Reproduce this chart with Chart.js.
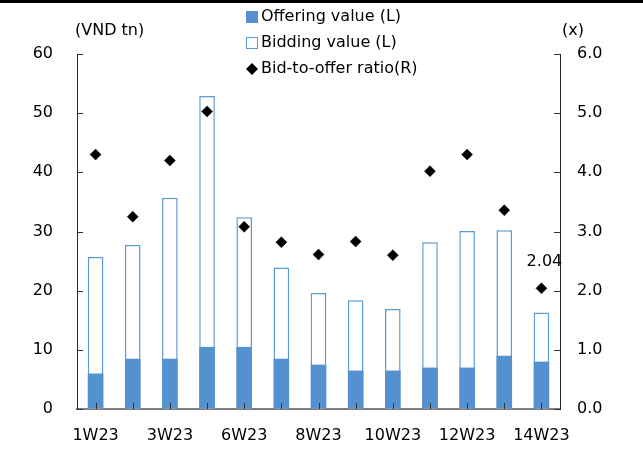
<!DOCTYPE html>
<html>
<head>
<meta charset="utf-8">
<script src="https://cdn.jsdelivr.net/npm/chart.js@4/dist/chart.umd.min.js"></script>
<style>
  html, body { margin: 0; padding: 0; background: #fff; }
  #wrap { width: 643px; height: 472px; position: relative; }
</style>
</head>
<body>
<div id="wrap"><canvas id="c" width="643" height="472"></canvas></div>
<script>
// Weekly government bond auction results, 2023
const weeks = ['1W23', '2W23', '3W23', '5W23', '6W23', '7W23', '8W23', '9W23', '10W23', '11W23', '12W23', '13W23', '14W23'];
const offeringValue = [6.0, 8.5, 8.5, 10.5, 10.5, 8.5, 7.5, 6.5, 6.5, 7.0, 7.0, 9.0, 8.0];
const biddingValue = [25.7, 27.7, 35.7, 52.9, 32.4, 23.9, 19.6, 18.4, 16.9, 28.2, 30.1, 30.2, 16.3];
const bidToOffer = [4.30, 3.25, 4.20, 5.03, 3.08, 2.82, 2.61, 2.83, 2.60, 4.02, 4.30, 3.36, 2.04];
const leftTicks = [0, 10, 20, 30, 40, 50, 60];
const rightTicks = [0, 1, 2, 3, 4, 5, 6];

const FONT = '"DejaVu Sans", Verdana, sans-serif';
const BLUE = '#5591cf';
const BLUE_EDGE = '#5b9bd5';

// Legend, unit captions, inward tick marks and the value call-out
const decorations = {
  id: 'decorations',
  afterDraw(chart) {
    const ctx = chart.ctx;
    const area = chart.chartArea;
    const x = chart.scales.x, y = chart.scales.y, y1 = chart.scales.y1;
    ctx.save();

    // top rule
    ctx.fillStyle = '#000';
    ctx.fillRect(0, 0, chart.width, 3);

    // inward tick marks
    ctx.strokeStyle = '#333';
    ctx.lineWidth = 1;
    ctx.beginPath();
    leftTicks.forEach(v => {
      const py = Math.round(y.getPixelForValue(v)) + 0.5;
      ctx.moveTo(area.left, py); ctx.lineTo(area.left + 6, py);
    });
    rightTicks.forEach(v => {
      const py = Math.round(y1.getPixelForValue(v)) + 0.5;
      ctx.moveTo(area.right, py); ctx.lineTo(area.right - 6, py);
    });
    weeks.forEach((w, i) => {
      const px = Math.round(x.getPixelForValue(i)) + 0.5;
      ctx.moveTo(px, area.bottom); ctx.lineTo(px, area.bottom - 6);
    });
    ctx.stroke();

    // unit captions
    ctx.fillStyle = '#000';
    ctx.font = '16px ' + FONT;
    ctx.textBaseline = 'middle';
    ctx.textAlign = 'left';
    ctx.fillText('(VND tn)', 75, 31);
    ctx.fillText('(x)', 562, 31);

    // legend
    const lx = 246, rows = [17, 43, 69];
    const ds = chart.data.datasets;
    // offering
    ctx.fillStyle = BLUE;
    ctx.fillRect(lx, rows[0] - 6, 12, 12);
    // bidding
    ctx.fillStyle = '#fff';
    ctx.fillRect(lx, rows[1] - 6, 12, 12);
    ctx.strokeStyle = BLUE_EDGE;
    ctx.lineWidth = 1;
    ctx.strokeRect(lx + 0.5, rows[1] - 5.5, 11, 11);
    // ratio
    ctx.fillStyle = '#000';
    ctx.beginPath();
    ctx.moveTo(lx + 6, rows[2] - 6);
    ctx.lineTo(lx + 12, rows[2]);
    ctx.lineTo(lx + 6, rows[2] + 6);
    ctx.lineTo(lx, rows[2]);
    ctx.closePath();
    ctx.fill();
    ctx.fillStyle = '#000';
    ctx.fillText(ds[0].label, 261, rows[0]);
    ctx.fillText(ds[1].label, 261, rows[1]);
    ctx.fillText(ds[2].label, 261, rows[2]);

    // call-out for the latest ratio
    const last = bidToOffer.length - 1;
    const pt = chart.getDatasetMeta(2).data[last];
    ctx.textAlign = 'center';
    ctx.fillText(bidToOffer[last].toFixed(2), pt.x + 3, pt.y - 26);

    ctx.restore();
  }
};

new Chart(document.getElementById('c'), {
  data: {
    labels: weeks,
    datasets: [
      {
        type: 'bar',
        label: 'Offering value (L)',
        data: offeringValue,
        backgroundColor: BLUE,
        borderWidth: 0,
        grouped: false,
        yAxisID: 'y',
        order: 1
      },
      {
        type: 'bar',
        label: 'Bidding value (L)',
        data: biddingValue,
        backgroundColor: '#ffffff',
        borderColor: BLUE_EDGE,
        borderWidth: 1.5,
        grouped: false,
        yAxisID: 'y',
        order: 2
      },
      {
        type: 'line',
        label: 'Bid-to-offer ratio(R)',
        data: bidToOffer,
        showLine: false,
        pointStyle: 'rectRot',
        pointRadius: 5.5,
        pointBackgroundColor: '#000',
        pointBorderColor: '#000',
        pointBorderWidth: 0.5,
        yAxisID: 'y1',
        order: 0
      }
    ]
  },
  options: {
    responsive: false,
    animation: false,
    events: [],
    layout: { padding: { top: 54, left: 0, right: 0, bottom: 0 } },
    datasets: { bar: { categoryPercentage: 1, barPercentage: 0.42 } },
    plugins: { legend: { display: false }, tooltip: { enabled: false } },
    scales: {
      x: {
        type: 'category',
        offset: true,
        grid: { color: 'transparent', drawTicks: false },
        border: { color: '#808080', width: 2 },
        ticks: {
          autoSkip: false,
          maxRotation: 0,
          padding: 17,
          color: '#000',
          font: { family: FONT, size: 16 },
          callback: (v, i) => (i % 2 === 0 ? weeks[i] : '')
        },
        afterFit: s => { s.height = 63; }
      },
      y: {
        position: 'left',
        min: 0,
        max: 60,
        grid: { color: 'transparent', drawTicks: false },
        border: { color: '#222', width: 1 },
        ticks: {
          stepSize: 10,
          padding: 24,
          color: '#000',
          font: { family: FONT, size: 16 }
        },
        afterFit: s => { s.width = 77; },
        afterBuildTicks: s => { s.ticks = leftTicks.map(v => ({ value: v })); }
      },
      y1: {
        position: 'right',
        min: 0,
        max: 6,
        grid: { color: 'transparent', drawTicks: false },
        border: { color: '#222', width: 1 },
        ticks: {
          padding: 17,
          color: '#000',
          font: { family: FONT, size: 16 },
          callback: v => Number(v).toFixed(1)
        },
        afterFit: s => { s.width = 83; },
        afterBuildTicks: s => { s.ticks = rightTicks.map(v => ({ value: v })); }
      }
    }
  },
  plugins: [decorations]
});
</script>
</body>
</html>
